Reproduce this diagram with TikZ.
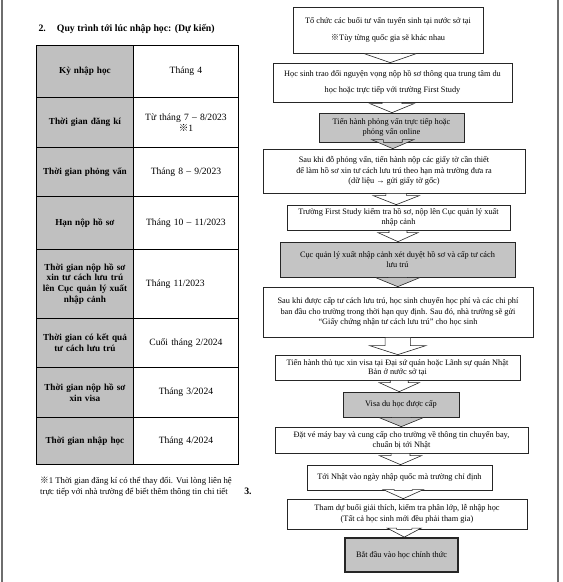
\documentclass[tikz,border=0pt]{standalone}
\usepackage{fontspec}
\setmainfont{Liberation Serif}
\newfontfamily\cjk{Noto Sans CJK JP}
\usetikzlibrary{calc}
\definecolor{cellgray}{HTML}{C0C0C0}
\definecolor{boxgray}{HTML}{C4C4C4}
\definecolor{pageline}{HTML}{6E6E6E}
\newcommand{\refmark}{{\cjk ※}}
\tikzset{
  headcell/.style={draw, line width=0.9pt, fill=cellgray, anchor=north west, minimum width=97pt,
                   inner sep=2pt, text width=92pt, align=center,
                   font=\fontsize{9.2}{10.7}\selectfont\bfseries},
  valcell/.style={draw, line width=0.9pt, fill=white, anchor=north west, minimum width=105pt,
                  inner sep=2pt, text width=100pt, align=center, font=\fontsize{9.6}{11}\selectfont},
  flowbox/.style={draw=black!85, line width=0.7pt, fill=white, align=center, inner sep=2pt,
                  font=\fontsize{8.3}{10.5}\selectfont},
  graybox/.style={flowbox, fill=boxgray},
  lastbox/.style={graybox, line width=1.8pt}}
\newcommand{\flowarr}[4][22pt]{%
  \path let \p1=(#3.south), \p2=(#4.north), \n1={(\x1+\x2)/2} in
    [draw=black!85, line width=0.6pt, fill=#2, line join=miter]
    ({\n1-0.45*#1},\y1) -- ({\n1+0.45*#1},\y1) -- ({\n1+0.45*#1},{\y2+9pt}) -- ({\n1+#1},{\y2+9pt})
    -- ({\n1},\y2) -- ({\n1-#1},{\y2+9pt}) -- ({\n1-0.45*#1},{\y2+9pt}) -- cycle;}

\begin{document}
\begin{tikzpicture}[x=1pt, y=-1pt]
  \useasboundingbox (0,0) rectangle (563,582);
  \draw[pageline, line width=1.2pt] (2,0) -- (2,582);
  \draw[pageline, line width=1.2pt] (558,0) -- (558,582);

  \node[anchor=west, font=\fontsize{9.8}{12}\selectfont\bfseries] (title) at (35,29)
    {2.\hspace{11pt}Quy trình tới lúc nhập học: (Dự kiến)};

  \node[headcell, minimum height=52pt] (k1) at (36,45) {Kỳ nhập học};
  \node[valcell, minimum height=52pt] (v1) at (133,45) {Tháng 4\\[4pt]};
  \node[headcell, minimum height=50pt] (k2) at (36,97) {Thời gian đăng kí};
  \node[valcell, minimum height=50pt] (v2) at (133,97) {Từ tháng 7 – 8/2023\\\refmark1};
  \node[headcell, minimum height=49pt] (k3) at (36,147) {Thời gian phỏng vấn};
  \node[valcell, minimum height=49pt] (v3) at (133,147) {Tháng 8 – 9/2023};
  \node[headcell, minimum height=53pt] (k4) at (36,196) {Hạn nộp hồ sơ};
  \node[valcell, minimum height=53pt] (v4) at (133,196) {Tháng 10 – 11/2023};
  \node[headcell, minimum height=69pt] (k5) at (36,249)
    {Thời gian nộp hồ sơ\\xin tư cách lưu trú\\lên Cục quản lý xuất\\nhập cảnh};
  \node[valcell, minimum height=69pt, text width=80pt, align=left] (v5) at (133,249) {Tháng 11/2023};
  \node[headcell, minimum height=49pt] (k6) at (36,318) {Thời gian có kết quả\\tư cách lưu trú};
  \node[valcell, minimum height=49pt] (v6) at (133,318) {Cuối tháng 2/2024};
  \node[headcell, minimum height=50pt] (k7) at (36,367) {Thời gian nộp hồ sơ\\xin visa};
  \node[valcell, minimum height=50pt] (v7) at (133,367) {Tháng 3/2024};
  \node[headcell, minimum height=47pt] (k8) at (36,417) {Thời gian nhập học};
  \node[valcell, minimum height=47pt] (v8) at (133,417) {Tháng 4/2024};

  \node[anchor=north west, align=left, inner sep=0pt, font=\fontsize{8.7}{10.5}\selectfont] (note) at (40,477)
    {\refmark1 Thời gian đăng kí có thể thay đổi. Vui lòng liên hệ\\
     trực tiếp với nhà trường để biết thêm thông tin chi tiết};
  \node[font=\fontsize{9.8}{12}\selectfont\bfseries] (three) at (248,491) {3.};

  \node[flowbox, minimum width=190pt, minimum height=46pt] (s1) at (388,30)
    {Tổ chức các buổi tư vấn tuyển sinh tại nước sở tại\\[7pt]\refmark Tùy từng quốc gia sẽ khác nhau};
  \node[flowbox, minimum width=239pt, minimum height=39pt] (s2) at (392.5,82.5)
    {Học sinh trao đổi nguyện vọng nộp hồ sơ thông qua trung tâm du\\[5.5pt]học hoặc trực tiếp với trường First Study};
  \node[graybox, minimum width=145pt, minimum height=29pt] (s3) at (391.5,127.5)
    {Tiến hành phỏng vấn trực tiếp hoặc\\[-1pt]phỏng vấn online};
  \node[flowbox, minimum width=262pt, minimum height=44pt] (s4) at (394,171)
    {Sau khi đỗ phỏng vấn, tiến hành nộp các giấy tờ cần thiết\\để làm hồ sơ xin tư cách lưu trú theo hạn mà trường đưa ra\\(dữ liệu → gửi giấy tờ gốc)};
  \node[flowbox, minimum width=223pt, minimum height=25pt] (s5) at (398.5,217.5)
    {Trường First Study kiểm tra hồ sơ, nộp lên Cục quản lý xuất\\[-1pt]nhập cảnh};
  \node[graybox, minimum width=235pt, minimum height=35pt] (s6) at (397.5,259.5)
    {Cục quản lý xuất nhập cảnh xét duyệt hồ sơ và cấp tư cách\\lưu trú};
  \node[flowbox, minimum width=270pt, minimum height=50pt] (s7) at (398,312)
    {Sau khi được cấp tư cách lưu trú, học sinh chuyển học phí và các chi phí\\ban đầu cho trường trong thời hạn quy định. Sau đó, nhà trường sẽ gửi\\“Giấy chứng nhận tư cách lưu trú” cho học sinh};
  \node[flowbox, minimum width=245pt, minimum height=25pt] (s8) at (397.5,367.5)
    {Tiến hành thủ tục xin visa tại Đại sứ quán hoặc Lãnh sự quán Nhật\\[-1pt]Bản ở nước sở tại};
  \node[graybox, minimum width=116pt, minimum height=25pt] (s9) at (401,404.5) {Visa du học được cấp};
  \node[flowbox, minimum width=253pt, minimum height=26pt] (s10) at (401.5,440)
    {Đặt vé máy bay và cung cấp cho trường về thông tin chuyến bay,\\[-1pt]chuẩn bị tới Nhật};
  \node[flowbox, minimum width=185pt, minimum height=25pt] (s11) at (399.5,477.5)
    {Tới Nhật vào ngày nhập quốc mà trường chỉ định};
  \node[flowbox, minimum width=240pt, minimum height=30pt] (s12) at (407,514)
    {Tham dự buổi giải thích, kiểm tra phân lớp, lễ nhập học\\(Tất cả học sinh mới đều phải tham gia)};
  \node[lastbox, minimum width=113pt, minimum height=34pt] (s13) at (401.5,555) {Bắt đầu vào học chính thức};

  \flowarr[26pt]{white}{s1}{s2}
  \flowarr{white}{s2}{s3}
  \flowarr[21pt]{boxgray}{s3}{s4}
  \flowarr[23pt]{white}{s4}{s5}
  \flowarr[20pt]{white}{s5}{s6}
  \flowarr{boxgray}{s6}{s7}
  \flowarr[28pt]{white}{s7}{s8}
  \flowarr[20pt]{white}{s8}{s9}
  \flowarr{boxgray}{s9}{s10}
  \flowarr[21pt]{white}{s10}{s11}
  \flowarr[20pt]{white}{s11}{s12}
  \flowarr[17pt]{white}{s12}{s13}
\end{tikzpicture}
\end{document}
